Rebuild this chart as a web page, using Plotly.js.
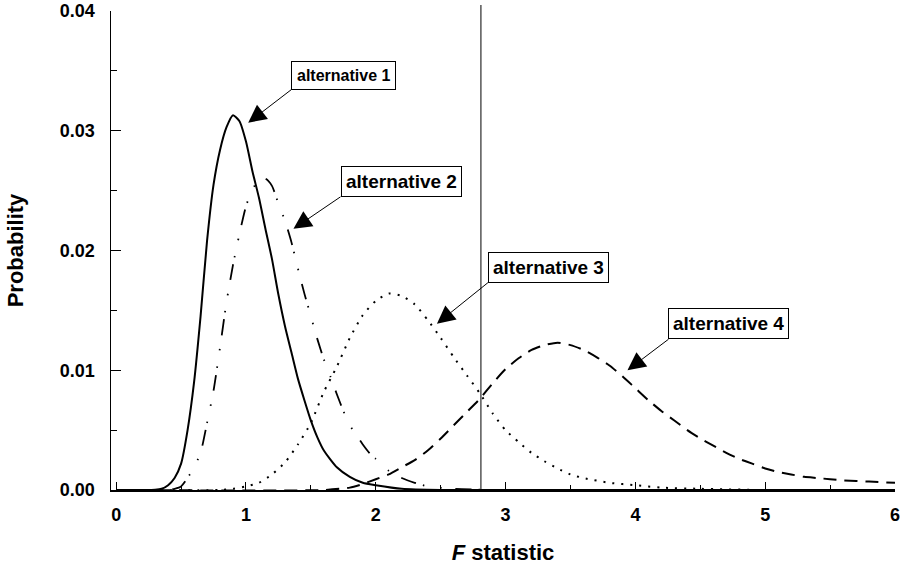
<!DOCTYPE html>
<html>
<head>
<meta charset="utf-8">
<script src="https://cdn.plot.ly/plotly-3.0.1.min.js"></script>
<style>html,body{margin:0;padding:0;background:#fff;}#chart{width:907px;height:574px;}</style>
</head>
<body>
<div id="chart"></div>
<script>
// Data
const seriesNames = ["alternative 1", "alternative 2", "alternative 3", "alternative 4"];

const alt1X = [0, 0.2, 0.3, 0.35, 0.4, 0.45, 0.5, 0.55, 0.6, 0.65, 0.7, 0.75, 0.8, 0.85, 0.9, 0.95, 1.0, 1.05, 1.1, 1.15, 1.2, 1.25, 1.3, 1.35, 1.4, 1.45, 1.5, 1.55, 1.6, 1.7, 1.8, 1.9, 2.0, 2.2, 2.5, 3, 4, 5, 6];
const alt1Y = [0, 0, 0.00002, 0.0001, 0.0004, 0.001, 0.0022, 0.005, 0.009, 0.0145, 0.0208, 0.0255, 0.0284, 0.0303, 0.0313, 0.0308, 0.0291, 0.0266, 0.0244, 0.0218, 0.0193, 0.0163, 0.0137, 0.0115, 0.0093, 0.0075, 0.0058, 0.0044, 0.0033, 0.0019, 0.0011, 0.0006, 0.0004, 0.0001, 0, 0, 0, 0, 0];

const alt2X = [0, 0.4, 0.45, 0.5, 0.55, 0.6, 0.65, 0.7, 0.75, 0.8, 0.85, 0.9, 0.95, 1.0, 1.05, 1.1, 1.15, 1.2, 1.25, 1.3, 1.35, 1.4, 1.45, 1.5, 1.55, 1.6, 1.65, 1.7, 1.75, 1.8, 1.85, 1.9, 1.95, 2.0, 2.1, 2.2, 2.3, 2.4, 2.6, 3, 4, 5, 6];
const alt2Y = [0, 0, 0.0001, 0.0003, 0.001, 0.0019, 0.0031, 0.0056, 0.0083, 0.0119, 0.0157, 0.0188, 0.0214, 0.0237, 0.0251, 0.0259, 0.026, 0.0254, 0.0239, 0.0225, 0.0207, 0.0185, 0.0164, 0.0145, 0.0126, 0.0109, 0.0095, 0.008, 0.0066, 0.0054, 0.0046, 0.0038, 0.0031, 0.0026, 0.0016, 0.001, 0.0006, 0.0003, 0.0001, 0, 0, 0, 0];

const alt3X = [0, 0.8, 0.9, 1.0, 1.1, 1.2, 1.3, 1.4, 1.5, 1.6, 1.7, 1.8, 1.9, 2.0, 2.1, 2.2, 2.3, 2.4, 2.5, 2.6, 2.7, 2.8, 2.9, 3.0, 3.1, 3.2, 3.3, 3.4, 3.5, 3.6, 3.8, 4.0, 4.2, 4.5, 5, 6];
const alt3Y = [0, 0, 0.0001, 0.0003, 0.0006, 0.0013, 0.0023, 0.0038, 0.0056, 0.0082, 0.0103, 0.0127, 0.0146, 0.0158, 0.0164, 0.0162, 0.0155, 0.0142, 0.0127, 0.0111, 0.0096, 0.0081, 0.0064, 0.005, 0.004, 0.0031, 0.0024, 0.0018, 0.0013, 0.001, 0.0006, 0.0004, 0.0002, 0.0001, 0, 0];

const alt4X = [0, 1.6, 1.8, 1.9, 2.0, 2.1, 2.2, 2.3, 2.4, 2.5, 2.6, 2.7, 2.8, 2.9, 3.0, 3.1, 3.2, 3.3, 3.4, 3.5, 3.6, 3.7, 3.8, 3.9, 4.0, 4.1, 4.2, 4.3, 4.4, 4.5, 4.6, 4.7, 4.8, 4.9, 5.0, 5.1, 5.2, 5.3, 5.4, 5.5, 5.6, 5.8, 6.0];
const alt4Y = [0, 0, 0.0002, 0.0005, 0.0009, 0.0013, 0.0019, 0.0025, 0.0033, 0.0043, 0.0054, 0.0065, 0.0076, 0.0089, 0.0101, 0.011, 0.0117, 0.0121, 0.0123, 0.0121, 0.0117, 0.0111, 0.0104, 0.0095, 0.0085, 0.0075, 0.0066, 0.0058, 0.005, 0.0043, 0.0037, 0.0031, 0.0026, 0.0022, 0.0018, 0.0015, 0.0013, 0.0011, 0.001, 0.0009, 0.0008, 0.0007, 0.0006];

const criticalF = [2.81];

const xTickVals = [0, 1, 2, 3, 4, 5, 6];
const xTickText = ["0", "1", "2", "3", "4", "5", "6"];
const yTickVals = [0, 0.01, 0.02, 0.03, 0.04];
const yTickText = ["0.00", "0.01", "0.02", "0.03", "0.04"];

const FONT = "Liberation Sans, Arial, Helvetica, sans-serif";

const traces = [
  {x: alt1X, y: alt1Y, name: seriesNames[0], mode: "lines",
   line: {color: "#000", width: 2, dash: "solid", shape: "spline", smoothing: 0.6}},
  {x: alt2X, y: alt2Y, name: seriesNames[1], mode: "lines",
   line: {color: "#000", width: 1.8, dash: "16px,7px,1.5px,16px,1.5px,14px", shape: "spline", smoothing: 0.6}},
  {x: alt3X, y: alt3Y, name: seriesNames[2], mode: "lines",
   line: {color: "#000", width: 2, dash: "2px,7px", shape: "spline", smoothing: 0.6}},
  {x: alt4X, y: alt4Y, name: seriesNames[3], mode: "lines",
   line: {color: "#000", width: 2, dash: "13px,8px", shape: "spline", smoothing: 0.6}}
];

function ann(text, x, y, ax, ay, size, pad) {
  return {
    text: text, x: x, y: y, xref: "x", yref: "y",
    ax: ax, ay: ay, showarrow: true,
    arrowhead: 2, arrowsize: 3.6, arrowwidth: 1, arrowcolor: "#000",
    xanchor: "left", yanchor: "bottom",
    bgcolor: "#fff", bordercolor: "#000", borderwidth: 1, borderpad: pad,
    font: {family: FONT, size: size, color: "#000", weight: "bold"}
  };
}

const layout = {
  width: 907, height: 574,
  margin: {l: 111, r: 12, t: 11, b: 84},
  paper_bgcolor: "#fff", plot_bgcolor: "#fff",
  showlegend: false,
  font: {family: FONT, color: "#000"},
  xaxis: {
    range: [-0.04, 6], showgrid: false, zeroline: false,
    showline: true, linecolor: "#000", linewidth: 1.5,
    ticks: "inside", ticklen: 8, tickwidth: 1, tickcolor: "#000",
    tickvals: xTickVals, ticktext: xTickText, ticklabelstandoff: 8,
    tickfont: {family: FONT, size: 18, color: "#000", weight: "bold"},
    minor: {dtick: 0.5, ticks: "inside", ticklen: 5, tickcolor: "#000", showgrid: false},
    title: {text: "<i>F</i> statistic", standoff: 20,
            font: {family: FONT, size: 22, color: "#000", weight: "bold"}}
  },
  yaxis: {
    range: [0, 0.04], showgrid: false, zeroline: false,
    showline: true, linecolor: "#000", linewidth: 1.5,
    ticks: "inside", ticklen: 10, tickwidth: 1, tickcolor: "#000",
    tickvals: yTickVals, ticktext: yTickText, ticklabelstandoff: 11,
    tickfont: {family: FONT, size: 18, color: "#000", weight: "bold"},
    minor: {dtick: 0.005, ticks: "inside", ticklen: 6, tickcolor: "#000", showgrid: false},
    title: {text: "Probability", standoff: 30,
            font: {family: FONT, size: 22, color: "#000", weight: "bold"}}
  },
  shapes: [
    {type: "line", xref: "x", yref: "paper", x0: criticalF[0], x1: criticalF[0], y0: 0, y1: 1.0125,
     line: {color: "#000", width: 1}}
  ],
  annotations: [
    ann(seriesNames[0], 1.017, 0.03067, 43, -33, 16, 5),
    ann(seriesNames[1], 1.366, 0.02181, 47, -32, 19, 4),
    ann(seriesNames[2], 2.471, 0.01389, 51, -41, 19, 4),
    ann(seriesNames[3], 3.939, 0.0100, 41, -31, 19, 4)
  ]
};

Plotly.newPlot("chart", traces, layout, {displayModeBar: false, staticPlot: true});
</script>
</body>
</html>
